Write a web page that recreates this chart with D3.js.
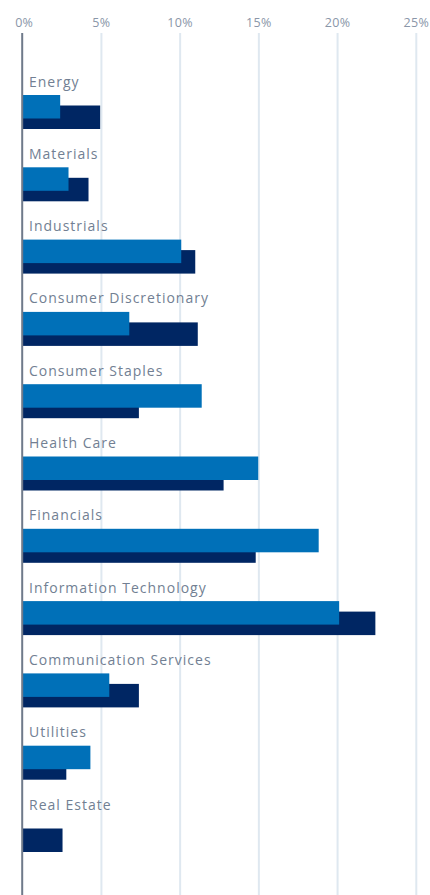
<!DOCTYPE html>
<html>
<head>
<meta charset="utf-8">
<script src="https://cdn.jsdelivr.net/npm/d3@7"></script>
<style>
  body { margin: 0; background: #fff; }
  svg { display: block; font-family: "Open Sans", sans-serif; }
</style>
</head>
<body>
<svg id="chart"></svg>
<script>
// Sector weights (%)
const sectors = [
  'Energy', 'Materials', 'Industrials', 'Consumer Discretionary', 'Consumer Staples',
  'Health Care', 'Financials', 'Information Technology', 'Communication Services',
  'Utilities', 'Real Estate'
];
const fundWeights = [2.38, 2.91, 10.07, 6.77, 11.37, 14.96, 18.8, 20.1, 5.5, 4.3, 0];
const indexWeights = [4.92, 4.18, 10.96, 11.12, 7.38, 12.76, 14.8, 22.4, 7.38, 2.77, 2.53];
const tickValues = [0, 5, 10, 15, 20, 25];

const width = 430;
const height = 895;

const svg = d3.select('#chart')
  .attr('width', width)
  .attr('height', height);

const x = d3.scaleLinear()
  .domain([0, 25])
  .range([22.7, 416.3]);

// each band starts at the top of the light bar
const y = d3.scaleBand()
  .domain(sectors)
  .range([95, 95 + sectors.length * 72.3])
  .paddingInner(0);

const barH = 23.5;
const darkOffset = 10.5;

// gridlines
svg.append('g')
  .selectAll('line')
  .data(tickValues.slice(1))
  .join('line')
  .attr('x1', d => x(d))
  .attr('x2', d => x(d))
  .attr('y1', 33)
  .attr('y2', height)
  .attr('stroke', '#dfe8f0')
  .attr('stroke-width', 2);

// tick labels
svg.append('g')
  .selectAll('text')
  .data(tickValues)
  .join('text')
  .attr('x', d => x(d) + (d === 0 ? 1.5 : 0))
  .attr('y', 26.5)
  .attr('text-anchor', 'middle')
  .attr('font-size', 12.5)
  .attr('letter-spacing', 0.3)
  .attr('fill', '#8a96a8')
  .text(d => d + '%');

// index bars (dark, behind)
svg.append('g')
  .selectAll('rect')
  .data(sectors)
  .join('rect')
  .attr('x', x(0))
  .attr('y', d => y(d) + darkOffset)
  .attr('width', (d, i) => x(indexWeights[i]) - x(0))
  .attr('height', barH)
  .attr('fill', '#002663');

// fund bars (light, in front)
svg.append('g')
  .selectAll('rect')
  .data(sectors)
  .join('rect')
  .attr('x', x(0))
  .attr('y', d => y(d))
  .attr('width', (d, i) => x(fundWeights[i]) - x(0))
  .attr('height', barH)
  .attr('fill', '#0070b8');

// sector labels
svg.append('g')
  .selectAll('text')
  .data(sectors)
  .join('text')
  .attr('x', 29)
  .attr('y', d => y(d) - 8.5)
  .attr('font-size', 14)
  .attr('letter-spacing', 1)
  .attr('fill', '#727f93')
  .text(d => d);

// zero axis line
svg.append('line')
  .attr('x1', x(0) - 0.5)
  .attr('x2', x(0) - 0.5)
  .attr('y1', 33)
  .attr('y2', height)
  .attr('stroke', '#6f7a8a')
  .attr('stroke-width', 2);
</script>
</body>
</html>
